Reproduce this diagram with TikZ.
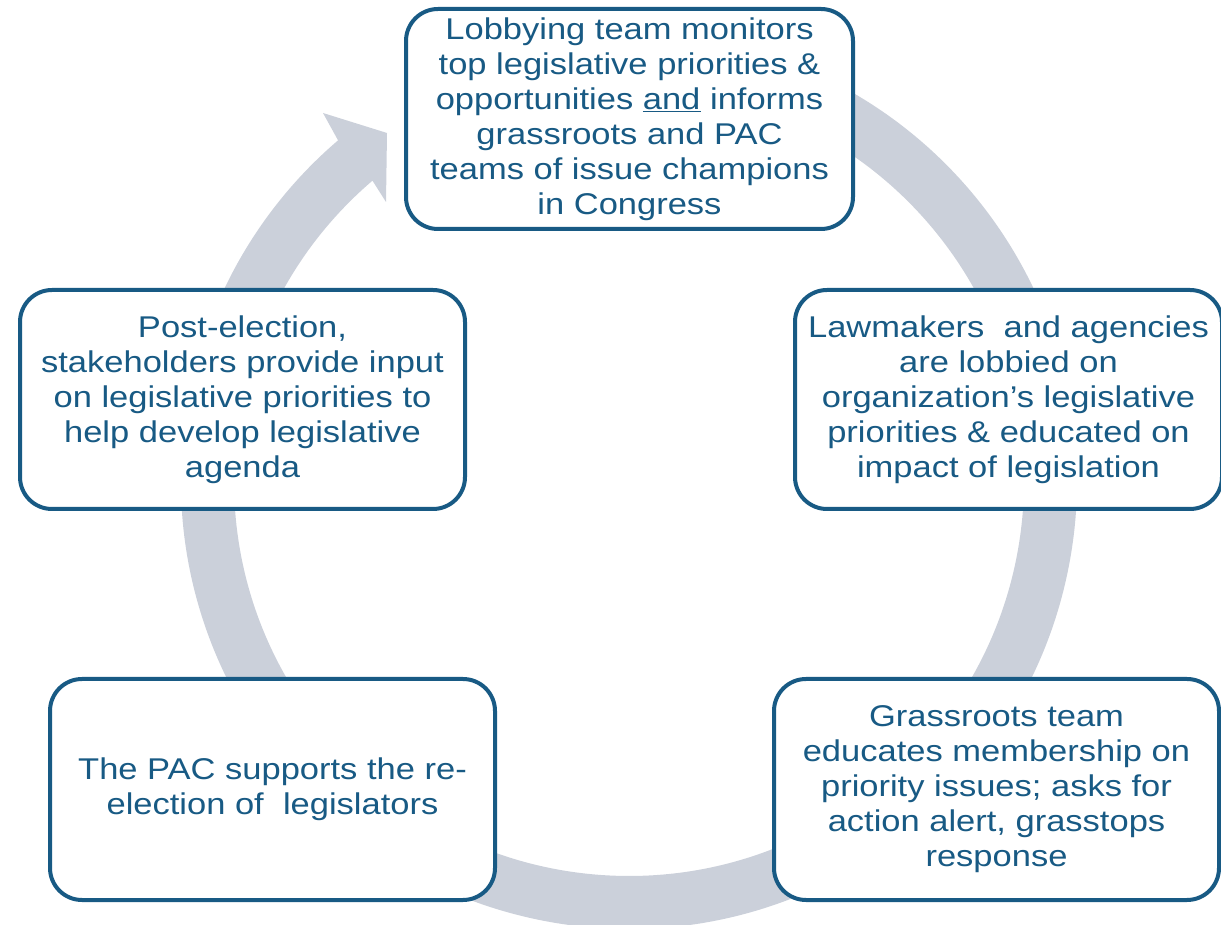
\documentclass[tikz,border=0pt]{standalone}
\usepackage{fontspec}
\setmainfont{Liberation Sans}[FakeStretch=1.15]
\usetikzlibrary{calc}

\definecolor{ringgray}{RGB}{203,208,218}
\definecolor{boxblue}{RGB}{24,90,132}

\tikzset{
  stagebox/.style={draw=boxblue, line width=4pt, fill=white, rounded corners=32pt,
    align=center, inner sep=0pt, text=boxblue,
    font=\fontsize{30}{35}\selectfont},
}

\begin{document}
\begin{tikzpicture}[x=1pt, y=1pt]
  \useasboundingbox (0,0) rectangle (1221,924);

  % cycle ring with its arrowhead pointing into the first stage
  \coordinate (C) at (629,443);
  \coordinate (barbout) at (323,811);
  \coordinate (tip) at (387,791);
  \coordinate (barbin) at (386,722);
  \fill[ringgray]
    ($(C)+(80:448pt)$) arc[start angle=80, end angle=-229.5, radius=448pt]
    -- (barbout) -- (tip) -- (barbin)
    -- ($(C)+(130.5:395pt)$) arc[start angle=-229.5, end angle=80, radius=395pt]
    -- cycle;

  % the five stages
  \node[stagebox, minimum width=447pt, minimum height=220pt] (lobby) at (629.5,805)
    {Lobbying team monitors\\ top legislative priorities \&\\ opportunities \underline{and} informs\\ grassroots and PAC\\ teams of issue champions\\ in Congress};
  \node[stagebox, minimum width=427pt, minimum height=219pt] (lawmakers) at (1008.5,524.5)
    {Lawmakers\ \ and agencies\\ are lobbied on\\ organization’s legislative\\ priorities \& educated on\\ impact of legislation};
  \node[stagebox, minimum width=445pt, minimum height=221pt] (grassroots) at (996.5,134.5)
    {Grassroots team\\ educates membership\ on\\ priority issues; asks for\\ action alert, grasstops\\ response};
  \node[stagebox, minimum width=445pt, minimum height=221pt] (pac) at (272.5,134.5)
    {The PAC supports the re-\\ election of\ \ legislators};
  \node[stagebox, minimum width=445pt, minimum height=219pt] (postelection) at (242.5,524.5)
    {Post-election,\\ stakeholders provide input\\ on legislative priorities to\\ help develop legislative\\ agenda};
\end{tikzpicture}
\end{document}
